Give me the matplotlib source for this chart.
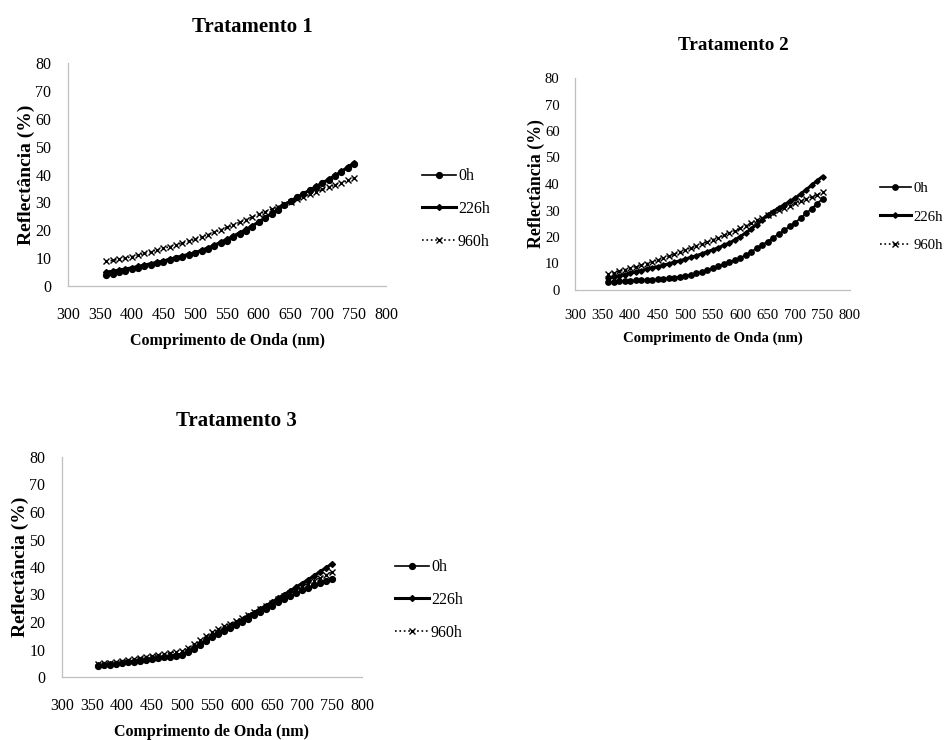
import matplotlib
matplotlib.use("Agg")
import matplotlib.pyplot as plt

plt.rcParams['font.family'] = ['Liberation Serif', 'DejaVu Serif']

# comprimento de onda (nm)
wl = list(range(360, 760, 10))
labels = ['0h', '226h', '960h']

t1_0h = [4.0, 4.4, 4.9, 5.4, 6.0, 6.5, 7.0, 7.6, 8.1, 8.7, 9.3, 9.9, 10.5, 11.1, 11.8, 12.6, 13.4, 14.3, 15.3, 16.3,
         17.4, 18.6, 19.9, 21.3, 22.8, 24.3, 25.9, 27.4, 29.0, 30.5, 31.8, 33.0, 34.3, 35.6, 36.8, 38.1, 39.5, 40.9, 42.4, 43.8]
t1_226h = [5.0, 5.3, 5.7, 6.1, 6.5, 7.0, 7.5, 8.0, 8.5, 9.0, 9.6, 10.2, 10.8, 11.4, 12.0, 12.8, 13.7, 14.6, 15.7, 16.8,
           17.9, 19.1, 20.3, 21.6, 23.0, 24.5, 26.0, 27.5, 29.0, 30.5, 31.8, 33.1, 34.4, 35.7, 37.0, 38.3, 39.7, 41.1, 42.7, 44.2]
t1_960h = [8.8, 9.2, 9.6, 10.0, 10.5, 11.1, 11.7, 12.3, 12.9, 13.5, 14.1, 14.8, 15.4, 16.1, 16.8, 17.6, 18.4, 19.3, 20.1, 21.0,
           21.9, 22.9, 23.8, 24.8, 25.8, 26.7, 27.6, 28.5, 29.3, 30.2, 31.1, 32.0, 32.9, 33.8, 34.7, 35.5, 36.3, 37.1, 37.9, 38.7]

t2_0h = [3.1, 3.2, 3.3, 3.4, 3.5, 3.6, 3.7, 3.8, 3.9, 4.0, 4.2, 4.5, 4.7, 5.0, 5.3, 5.8, 6.3, 6.8, 7.5, 8.2,
         8.9, 9.7, 10.5, 11.2, 12.0, 13.2, 14.4, 15.7, 17.0, 18.3, 19.7, 21.1, 22.5, 24.0, 25.4, 27.1, 28.9, 30.7, 32.6, 34.4]
t2_226h = [4.4, 4.8, 5.3, 5.8, 6.3, 6.8, 7.3, 7.8, 8.3, 8.8, 9.3, 9.9, 10.4, 11.0, 11.6, 12.3, 12.9, 13.6, 14.4, 15.1,
           15.9, 16.8, 17.7, 18.8, 20.1, 21.5, 23.0, 24.7, 26.5, 28.3, 29.6, 30.9, 32.1, 33.4, 34.6, 36.2, 37.8, 39.5, 41.2, 42.8]
t2_960h = [6.0, 6.5, 7.0, 7.6, 8.2, 8.8, 9.4, 10.0, 10.6, 11.3, 12.0, 12.8, 13.5, 14.3, 15.1, 15.9, 16.6, 17.4, 18.1, 18.9,
           19.8, 20.6, 21.5, 22.4, 23.3, 24.3, 25.3, 26.3, 27.3, 28.3, 29.2, 30.1, 31.0, 31.8, 32.7, 33.5, 34.3, 35.1, 36.0, 36.8]

t3_0h = [4.0, 4.2, 4.4, 4.7, 5.0, 5.3, 5.6, 5.9, 6.2, 6.5, 6.8, 7.1, 7.4, 7.7, 8.0, 9.0, 10.3, 11.7, 13.1, 14.5,
         15.6, 16.7, 17.8, 18.9, 20.0, 21.2, 22.4, 23.6, 24.8, 26.0, 27.1, 28.2, 29.3, 30.4, 31.5, 32.4, 33.3, 34.1, 35.0, 35.8]
t3_226h = [4.2, 4.4, 4.6, 4.9, 5.2, 5.5, 5.8, 6.1, 6.4, 6.8, 7.1, 7.4, 7.7, 8.0, 8.3, 9.3, 10.6, 12.0, 13.5, 15.0,
           16.2, 17.4, 18.5, 19.7, 20.8, 22.1, 23.4, 24.7, 26.0, 27.2, 28.6, 30.0, 31.3, 32.7, 34.0, 35.4, 36.8, 38.3, 39.7, 41.2]
t3_960h = [4.8, 5.0, 5.2, 5.4, 5.8, 6.2, 6.6, 7.0, 7.4, 7.8, 8.1, 8.4, 8.7, 9.1, 9.5, 10.6, 11.9, 13.3, 14.8, 16.2,
           17.3, 18.4, 19.4, 20.5, 21.5, 22.6, 23.7, 24.8, 25.9, 27.0, 28.2, 29.4, 30.6, 31.8, 33.0, 34.0, 35.0, 36.1, 37.2, 38.2]

fig = plt.figure(figsize=(9.48, 7.40), dpi=100)
W, H = 948.0, 740.0

def px_axes(l, t, r, b):
    return fig.add_axes([l / W, 1 - b / H, (r - l) / W, (b - t) / H])

def painel(ax, titulo, series, leg_x, leg_y, tit_x, esc=1.0):
    s0, s1, s2 = series
    ax.plot(wl, s0, color='black', lw=1.2, marker='o', ms=4.2 * esc, label=labels[0])
    ax.plot(wl, s1, color='black', lw=2.2, marker='D', ms=3.0 * esc, label=labels[1])
    ax.plot(wl, s2, color='black', lw=1.2, ls=':', marker='x', ms=5 * esc, mew=1.0, label=labels[2])
    ax.set_xlim(300, 800)
    ax.set_ylim(0, 80)
    ax.set_xticks(range(300, 801, 50))
    ax.set_yticks(range(0, 81, 10))
    for sp in ['top', 'right']:
        ax.spines[sp].set_visible(False)
    for sp in ['left', 'bottom']:
        ax.spines[sp].set_color('#bfbfbf')
        ax.spines[sp].set_linewidth(0.9)
    ax.tick_params(length=0, labelsize=11.5 * esc)
    ax.tick_params(axis='x', pad=15 * esc)
    ax.tick_params(axis='y', pad=12 * esc)
    ax.set_title(titulo, fontsize=15 * esc, fontweight='bold', pad=22 * esc, x=tit_x)
    ax.set_xlabel('Comprimento de Onda (nm)', fontsize=11.5 * esc, fontweight='bold', labelpad=7)
    ax.set_ylabel('Reflectância (%)', fontsize=14 * esc, fontweight='bold', labelpad=0)
    ax.legend(loc='center left', bbox_to_anchor=(leg_x / W, 1 - leg_y / H),
              bbox_transform=fig.transFigure, frameon=False, fontsize=11.5 * esc,
              handlelength=2.1, handletextpad=0.15, labelspacing=1.05,
              borderpad=0, borderaxespad=0)

ax1 = px_axes(68, 63, 386, 286)
painel(ax1, 'Tratamento 1', (t1_0h, t1_226h, t1_960h), 422, 209, 0.579)

ax2 = px_axes(575, 78, 850, 290)
painel(ax2, 'Tratamento 2', (t2_0h, t2_226h, t2_960h), 880, 217, 0.575, esc=0.92)

ax3 = px_axes(62, 457, 362, 677)
painel(ax3, 'Tratamento 3', (t3_0h, t3_226h, t3_960h), 395, 600, 0.583)

fig.savefig('out.png', dpi=100)
